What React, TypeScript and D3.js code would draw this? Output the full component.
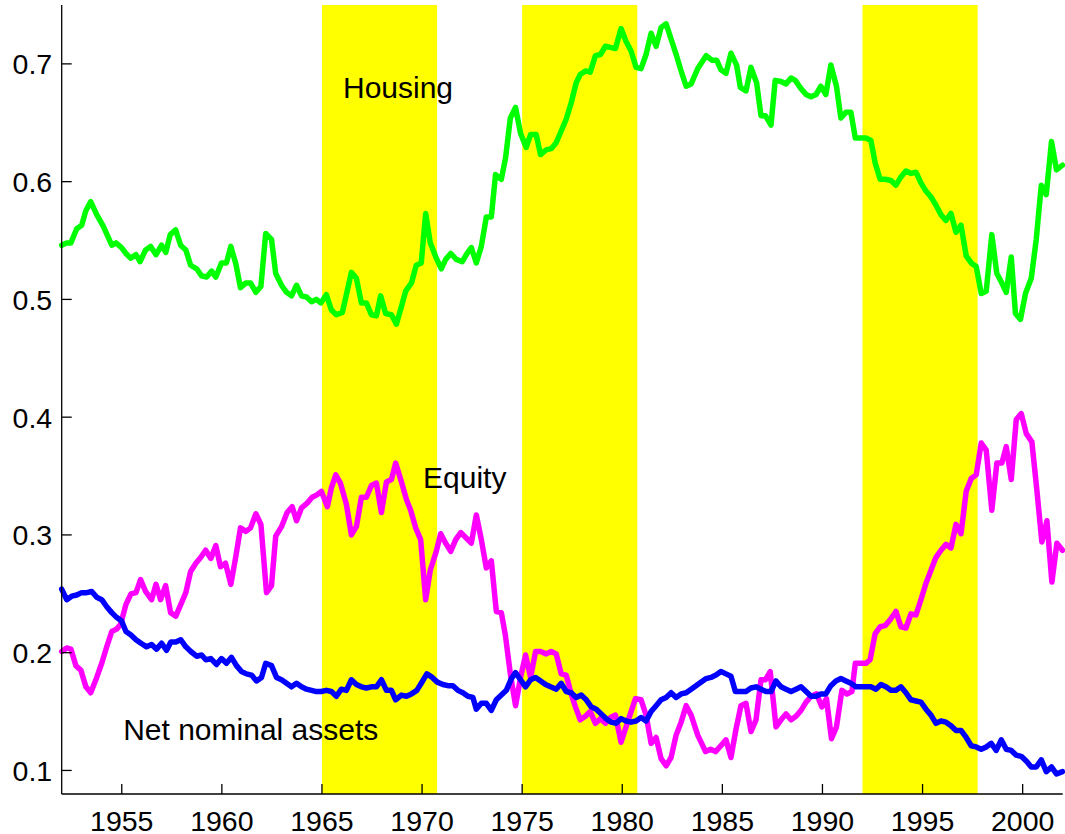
import React from "react";
import * as d3 from "d3";

// ---- Data (decimal year, share) ----
const housing: [number, number][] = [
  [1952.0, 0.546], [1952.25, 0.548], [1952.46, 0.548], [1952.75, 0.56], [1953.0, 0.563], [1953.2, 0.575],
  [1953.45, 0.583], [1953.75, 0.572], [1954.08, 0.562], [1954.5, 0.546], [1954.71, 0.548], [1954.99, 0.544],
  [1955.21, 0.539], [1955.44, 0.535], [1955.71, 0.538], [1955.91, 0.532], [1956.19, 0.542], [1956.44, 0.545],
  [1956.71, 0.538], [1956.99, 0.546], [1957.2, 0.54], [1957.42, 0.555], [1957.69, 0.559], [1957.94, 0.546],
  [1958.2, 0.542], [1958.44, 0.529], [1958.74, 0.526], [1958.99, 0.52], [1959.24, 0.519], [1959.49, 0.524],
  [1959.7, 0.519], [1959.98, 0.531], [1960.23, 0.531], [1960.45, 0.545], [1960.7, 0.53], [1960.93, 0.51],
  [1961.2, 0.514], [1961.43, 0.514], [1961.7, 0.506], [1961.95, 0.511], [1962.19, 0.556], [1962.48, 0.551],
  [1962.69, 0.522], [1962.98, 0.512], [1963.23, 0.506], [1963.48, 0.503], [1963.73, 0.512], [1963.98, 0.503],
  [1964.23, 0.502], [1964.48, 0.498], [1964.72, 0.5], [1964.94, 0.497], [1965.22, 0.504], [1965.47, 0.491],
  [1965.72, 0.487], [1966.02, 0.489], [1966.47, 0.523], [1966.72, 0.518], [1966.97, 0.497], [1967.22, 0.497],
  [1967.47, 0.487], [1967.72, 0.486], [1967.93, 0.503], [1968.18, 0.488], [1968.47, 0.487], [1968.72, 0.479],
  [1968.97, 0.494], [1969.18, 0.507], [1969.47, 0.514], [1969.71, 0.529], [1969.96, 0.531], [1970.18, 0.573],
  [1970.41, 0.548], [1970.71, 0.535], [1970.96, 0.526], [1971.18, 0.534], [1971.43, 0.539], [1971.71, 0.534],
  [1972.01, 0.532], [1972.21, 0.538], [1972.46, 0.544], [1972.71, 0.531], [1972.96, 0.545], [1973.21, 0.57],
  [1973.46, 0.57], [1973.67, 0.606], [1973.96, 0.602], [1974.17, 0.62], [1974.41, 0.654], [1974.67, 0.663],
  [1974.92, 0.641], [1975.2, 0.629], [1975.42, 0.64], [1975.7, 0.64], [1975.92, 0.623], [1976.2, 0.627],
  [1976.45, 0.628], [1976.7, 0.633], [1976.95, 0.643], [1977.2, 0.653], [1977.45, 0.667], [1977.7, 0.684],
  [1977.9, 0.691], [1978.16, 0.694], [1978.4, 0.693], [1978.66, 0.707], [1978.91, 0.708], [1979.16, 0.715],
  [1979.4, 0.714], [1979.66, 0.713], [1979.94, 0.73], [1980.19, 0.719], [1980.44, 0.711], [1980.69, 0.697],
  [1980.94, 0.696], [1981.19, 0.708], [1981.44, 0.726], [1981.69, 0.715], [1981.94, 0.731], [1982.19, 0.734],
  [1982.44, 0.721], [1982.69, 0.708], [1982.94, 0.694], [1983.19, 0.681], [1983.44, 0.683], [1983.77, 0.696],
  [1984.19, 0.707], [1984.49, 0.703], [1984.72, 0.703], [1984.93, 0.695], [1985.18, 0.692], [1985.43, 0.709],
  [1985.71, 0.699], [1985.9, 0.68], [1986.18, 0.677], [1986.43, 0.697], [1986.71, 0.684], [1986.93, 0.656],
  [1987.15, 0.656], [1987.43, 0.648], [1987.64, 0.686], [1987.93, 0.685], [1988.18, 0.683], [1988.43, 0.688],
  [1988.64, 0.686], [1988.93, 0.679], [1989.18, 0.674], [1989.43, 0.672], [1989.68, 0.674], [1989.92, 0.681],
  [1990.17, 0.674], [1990.42, 0.699], [1990.7, 0.681], [1990.92, 0.654], [1991.17, 0.659], [1991.42, 0.659],
  [1991.64, 0.637], [1991.92, 0.637], [1992.17, 0.637], [1992.42, 0.635], [1992.63, 0.616], [1992.88, 0.602],
  [1993.13, 0.602], [1993.42, 0.601], [1993.67, 0.597], [1993.92, 0.604], [1994.17, 0.609], [1994.42, 0.607],
  [1994.67, 0.608], [1994.92, 0.599], [1995.17, 0.592], [1995.42, 0.587], [1995.67, 0.58], [1995.92, 0.572],
  [1996.17, 0.567], [1996.42, 0.573], [1996.67, 0.557], [1996.92, 0.563], [1997.18, 0.537], [1997.43, 0.531],
  [1997.68, 0.528], [1997.93, 0.505], [1998.18, 0.507], [1998.46, 0.555], [1998.71, 0.522], [1998.93, 0.515],
  [1999.18, 0.506], [1999.43, 0.536], [1999.64, 0.488], [1999.89, 0.483], [2000.14, 0.505], [2000.43, 0.518],
  [2000.68, 0.551], [2000.93, 0.597], [2001.18, 0.589], [2001.44, 0.634], [2001.69, 0.61], [2001.99, 0.614],
];

const equity: [number, number][] = [
  [1952.0, 0.201], [1952.25, 0.204], [1952.46, 0.203], [1952.71, 0.189], [1952.96, 0.185], [1953.21, 0.171],
  [1953.45, 0.166], [1953.75, 0.179], [1954.0, 0.191], [1954.25, 0.205], [1954.5, 0.218], [1954.74, 0.22],
  [1954.94, 0.224], [1955.21, 0.241], [1955.46, 0.25], [1955.71, 0.251], [1955.94, 0.262], [1956.19, 0.252],
  [1956.49, 0.245], [1956.71, 0.258], [1956.94, 0.245], [1957.19, 0.257], [1957.44, 0.234], [1957.7, 0.231],
  [1957.95, 0.241], [1958.2, 0.251], [1958.44, 0.269], [1958.7, 0.276], [1958.95, 0.281], [1959.19, 0.287],
  [1959.45, 0.28], [1959.7, 0.291], [1959.93, 0.273], [1960.18, 0.276], [1960.45, 0.258], [1960.7, 0.282],
  [1960.93, 0.306], [1961.2, 0.303], [1961.43, 0.306], [1961.7, 0.318], [1961.95, 0.309], [1962.23, 0.251],
  [1962.48, 0.257], [1962.69, 0.299], [1962.98, 0.307], [1963.26, 0.319], [1963.51, 0.324], [1963.73, 0.312],
  [1963.98, 0.323], [1964.26, 0.327], [1964.51, 0.332], [1964.75, 0.334], [1964.97, 0.337], [1965.27, 0.324],
  [1965.47, 0.34], [1965.69, 0.351], [1965.92, 0.344], [1966.22, 0.326], [1966.47, 0.3], [1966.72, 0.307],
  [1966.97, 0.332], [1967.22, 0.332], [1967.47, 0.342], [1967.72, 0.344], [1967.97, 0.319], [1968.22, 0.345],
  [1968.47, 0.347], [1968.68, 0.361], [1968.97, 0.345], [1969.22, 0.33], [1969.43, 0.321], [1969.68, 0.306],
  [1969.93, 0.296], [1970.18, 0.245], [1970.41, 0.27], [1970.71, 0.286], [1970.93, 0.301], [1971.18, 0.293],
  [1971.43, 0.286], [1971.68, 0.296], [1971.93, 0.302], [1972.17, 0.298], [1972.46, 0.293], [1972.71, 0.317],
  [1972.96, 0.296], [1973.21, 0.272], [1973.46, 0.278], [1973.71, 0.235], [1973.96, 0.234], [1974.16, 0.215],
  [1974.41, 0.182], [1974.67, 0.155], [1974.92, 0.179], [1975.17, 0.198], [1975.42, 0.179], [1975.67, 0.201],
  [1975.92, 0.201], [1976.2, 0.199], [1976.45, 0.201], [1976.7, 0.199], [1976.95, 0.182], [1977.2, 0.181],
  [1977.45, 0.165], [1977.66, 0.154], [1977.9, 0.143], [1978.16, 0.146], [1978.4, 0.15], [1978.66, 0.14],
  [1978.91, 0.144], [1979.16, 0.14], [1979.41, 0.145], [1979.66, 0.147], [1979.94, 0.124], [1980.19, 0.137],
  [1980.44, 0.15], [1980.66, 0.161], [1980.94, 0.16], [1981.19, 0.147], [1981.44, 0.123], [1981.69, 0.128],
  [1981.94, 0.11], [1982.19, 0.104], [1982.44, 0.111], [1982.69, 0.13], [1982.94, 0.141], [1983.19, 0.155],
  [1983.44, 0.147], [1983.77, 0.13], [1984.16, 0.116], [1984.41, 0.118], [1984.66, 0.116], [1984.93, 0.121],
  [1985.18, 0.126], [1985.43, 0.111], [1985.68, 0.135], [1985.93, 0.155], [1986.18, 0.157], [1986.43, 0.133],
  [1986.68, 0.143], [1986.93, 0.177], [1987.15, 0.177], [1987.39, 0.184], [1987.68, 0.137], [1987.93, 0.143],
  [1988.18, 0.148], [1988.43, 0.143], [1988.68, 0.146], [1988.93, 0.151], [1989.18, 0.158], [1989.43, 0.163],
  [1989.71, 0.165], [1989.97, 0.154], [1990.2, 0.161], [1990.45, 0.127], [1990.7, 0.137], [1990.97, 0.168],
  [1991.22, 0.165], [1991.47, 0.167], [1991.64, 0.191], [1991.92, 0.191], [1992.17, 0.191], [1992.38, 0.194],
  [1992.63, 0.216], [1992.88, 0.222], [1993.13, 0.223], [1993.38, 0.228], [1993.67, 0.235], [1993.92, 0.222],
  [1994.17, 0.221], [1994.42, 0.233], [1994.67, 0.232], [1994.92, 0.245], [1995.17, 0.259], [1995.42, 0.27],
  [1995.67, 0.281], [1995.92, 0.287], [1996.17, 0.292], [1996.42, 0.289], [1996.67, 0.309], [1996.92, 0.301],
  [1997.18, 0.337], [1997.43, 0.348], [1997.68, 0.351], [1997.93, 0.378], [1998.18, 0.372], [1998.46, 0.321],
  [1998.71, 0.361], [1998.96, 0.361], [1999.18, 0.375], [1999.43, 0.347], [1999.68, 0.398], [1999.93, 0.403],
  [2000.18, 0.386], [2000.46, 0.379], [2000.71, 0.338], [2000.96, 0.294], [2001.21, 0.312], [2001.46, 0.26],
  [2001.71, 0.293], [2001.99, 0.287],
];

const netNominal: [number, number][] = [
  [1952.0, 0.254], [1952.25, 0.245], [1952.5, 0.248], [1952.75, 0.249], [1953.0, 0.251], [1953.25, 0.251],
  [1953.5, 0.252], [1953.75, 0.247], [1954.0, 0.245], [1954.25, 0.239], [1954.5, 0.234], [1954.74, 0.23],
  [1954.99, 0.227], [1955.21, 0.218], [1955.46, 0.215], [1955.71, 0.211], [1955.96, 0.208], [1956.24, 0.205],
  [1956.49, 0.207], [1956.74, 0.203], [1956.99, 0.208], [1957.24, 0.202], [1957.45, 0.209], [1957.7, 0.209],
  [1957.95, 0.211], [1958.2, 0.205], [1958.45, 0.201], [1958.74, 0.197], [1958.99, 0.198], [1959.2, 0.194],
  [1959.45, 0.195], [1959.73, 0.19], [1959.98, 0.195], [1960.23, 0.191], [1960.48, 0.196], [1960.73, 0.189],
  [1960.98, 0.184], [1961.23, 0.182], [1961.48, 0.181], [1961.73, 0.176], [1961.98, 0.179], [1962.19, 0.191],
  [1962.48, 0.189], [1962.73, 0.179], [1962.98, 0.177], [1963.23, 0.174], [1963.48, 0.171], [1963.73, 0.174],
  [1963.98, 0.171], [1964.23, 0.169], [1964.48, 0.168], [1964.72, 0.167], [1964.97, 0.167], [1965.22, 0.168],
  [1965.47, 0.167], [1965.72, 0.163], [1965.97, 0.169], [1966.22, 0.168], [1966.47, 0.177], [1966.72, 0.173],
  [1966.97, 0.171], [1967.22, 0.17], [1967.47, 0.171], [1967.72, 0.171], [1967.97, 0.177], [1968.22, 0.168],
  [1968.47, 0.168], [1968.68, 0.16], [1968.97, 0.164], [1969.22, 0.163], [1969.47, 0.165], [1969.74, 0.168],
  [1969.96, 0.174], [1970.24, 0.182], [1970.51, 0.179], [1970.76, 0.175], [1971.04, 0.173], [1971.29, 0.172],
  [1971.54, 0.172], [1971.79, 0.168], [1972.04, 0.166], [1972.29, 0.163], [1972.54, 0.162], [1972.71, 0.152],
  [1972.96, 0.157], [1973.21, 0.157], [1973.46, 0.151], [1973.71, 0.16], [1973.96, 0.164], [1974.21, 0.168],
  [1974.46, 0.178], [1974.67, 0.183], [1974.92, 0.177], [1975.17, 0.171], [1975.42, 0.177], [1975.67, 0.179],
  [1975.92, 0.176], [1976.17, 0.173], [1976.42, 0.171], [1976.7, 0.169], [1976.95, 0.174], [1977.2, 0.167],
  [1977.45, 0.166], [1977.7, 0.162], [1977.95, 0.164], [1978.2, 0.16], [1978.45, 0.154], [1978.7, 0.152],
  [1978.95, 0.148], [1979.2, 0.144], [1979.45, 0.141], [1979.69, 0.14], [1979.94, 0.144], [1980.19, 0.142],
  [1980.44, 0.141], [1980.69, 0.142], [1980.94, 0.145], [1981.19, 0.142], [1981.44, 0.15], [1981.69, 0.155],
  [1981.94, 0.16], [1982.19, 0.162], [1982.44, 0.166], [1982.69, 0.162], [1982.94, 0.165], [1983.19, 0.166],
  [1983.44, 0.169], [1983.77, 0.173], [1984.19, 0.178], [1984.43, 0.179], [1984.68, 0.181], [1984.93, 0.184],
  [1985.18, 0.182], [1985.43, 0.18], [1985.65, 0.167], [1985.93, 0.167], [1986.18, 0.167], [1986.43, 0.17],
  [1986.68, 0.171], [1986.93, 0.169], [1987.18, 0.167], [1987.43, 0.167], [1987.68, 0.176], [1987.93, 0.171],
  [1988.18, 0.169], [1988.43, 0.167], [1988.68, 0.169], [1988.93, 0.171], [1989.18, 0.167], [1989.43, 0.163],
  [1989.68, 0.163], [1989.92, 0.165], [1990.17, 0.165], [1990.42, 0.172], [1990.67, 0.176], [1990.92, 0.178],
  [1991.17, 0.176], [1991.42, 0.174], [1991.67, 0.171], [1991.92, 0.171], [1992.17, 0.171], [1992.42, 0.171],
  [1992.67, 0.169], [1992.92, 0.173], [1993.17, 0.171], [1993.42, 0.168], [1993.67, 0.168], [1993.92, 0.171],
  [1994.17, 0.166], [1994.42, 0.16], [1994.67, 0.159], [1994.92, 0.158], [1995.17, 0.152], [1995.42, 0.147],
  [1995.67, 0.14], [1995.92, 0.142], [1996.17, 0.141], [1996.42, 0.138], [1996.67, 0.134], [1996.92, 0.134],
  [1997.18, 0.128], [1997.43, 0.121], [1997.68, 0.12], [1997.93, 0.118], [1998.18, 0.12], [1998.43, 0.123],
  [1998.68, 0.117], [1998.93, 0.126], [1999.18, 0.118], [1999.43, 0.117], [1999.68, 0.113], [1999.93, 0.112],
  [2000.18, 0.108], [2000.43, 0.103], [2000.68, 0.103], [2000.93, 0.109], [2001.18, 0.099], [2001.44, 0.103],
  [2001.69, 0.097], [2001.99, 0.099],
];

const shadedPeriods: [number, number][] = [
  [1965.0, 1970.75],
  [1975.0, 1980.75],
  [1992.0, 1997.75],
];

const xTicks = [1955, 1960, 1965, 1970, 1975, 1980, 1985, 1990, 1995, 2000];
const yTicks = [0.1, 0.2, 0.3, 0.4, 0.5, 0.6, 0.7];

const labels = [
  { text: "Housing", year: 1966.05, value: 0.6708 },
  { text: "Equity", year: 1970.05, value: 0.3401 },
  { text: "Net nominal assets", year: 1955.07, value: 0.1259 },
];

export default function App() {
  const W = 1065;
  const H = 834;
  const left = 61.7;
  const right = 1062.7;
  const top = 5;
  const bottom = 794;

  const x = d3.scaleLinear().domain([1952, 2002]).range([left, right]);
  const y = d3.scaleLinear().domain([0.08, 0.75]).range([bottom, top]);

  const line = d3
    .line<[number, number]>()
    .x((d) => x(d[0]))
    .y((d) => y(d[1]));

  const font = "Arial, 'Liberation Sans', Helvetica, sans-serif";

  return (
    <svg
      width={W}
      height={H}
      style={{ position: "absolute", left: 0, top: 0, background: "#fff" }}
    >
      <rect x={0} y={0} width={W} height={H} fill="#fff" />
      {shadedPeriods.map(([a, b], i) => (
        <rect key={i} x={x(a)} y={top} width={x(b) - x(a)} height={bottom - top} fill="#ffff00" />
      ))}
      <g fill="none" strokeWidth={5.5} strokeLinejoin="round" strokeLinecap="round">
        <path d={line(housing) ?? ""} stroke="#00ff00" />
        <path d={line(equity) ?? ""} stroke="#ff00ff" />
        <path d={line(netNominal) ?? ""} stroke="#0000ff" />
      </g>
      {/* axes */}
      <g stroke="#000" strokeWidth={1.3} fill="none">
        <line x1={left} x2={left} y1={top} y2={bottom} />
        <line x1={left} x2={right} y1={bottom} y2={bottom} />
        {yTicks.map((t) => (
          <line key={t} x1={left} x2={left + 10} y1={y(t)} y2={y(t)} />
        ))}
        {xTicks.map((t) => (
          <line key={t} x1={x(t)} x2={x(t)} y1={bottom} y2={bottom - 10} />
        ))}
      </g>
      <g fontFamily={font} fontSize={28.5} fill="#000">
        {yTicks.map((t) => (
          <text key={t} x={left - 9.5} y={y(t) + 10.5} textAnchor="end">
            {d3.format(".1f")(t)}
          </text>
        ))}
        {xTicks.map((t) => (
          <text key={t} x={x(t)} y={bottom + 36.5} textAnchor="middle">
            {t}
          </text>
        ))}
      </g>
      <g fontFamily={font} fontSize={30} fill="#000">
        {labels.map((l) => (
          <text key={l.text} x={x(l.year)} y={y(l.value)}>
            {l.text}
          </text>
        ))}
      </g>
    </svg>
  );
}
